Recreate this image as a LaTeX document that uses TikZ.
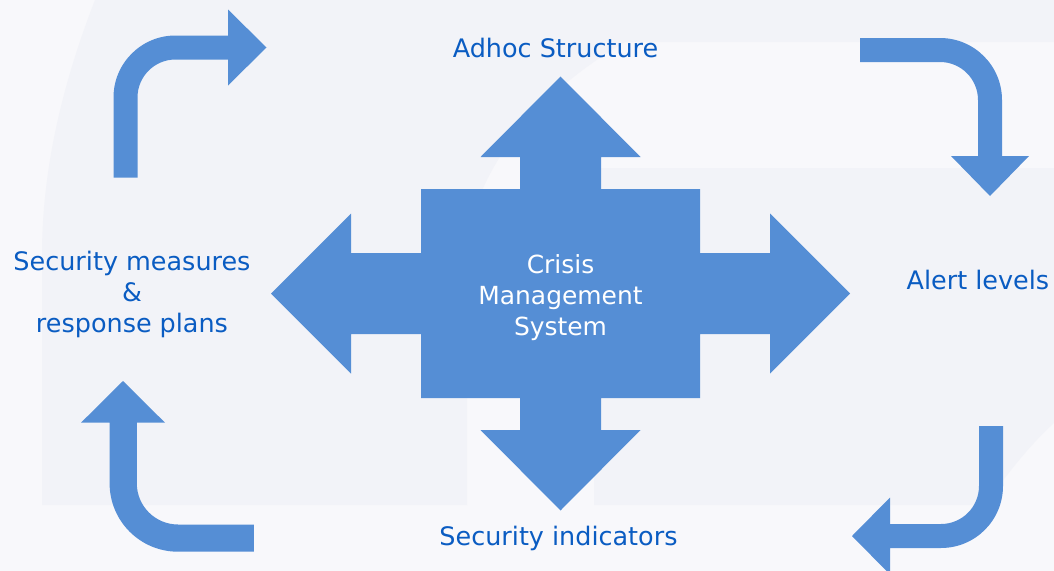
\documentclass[tikz,border=0pt]{standalone}
\usepackage{fontspec}
\setmainfont{DejaVu Sans}
\begin{document}
\begin{tikzpicture}[x=0.75pt,y=-0.75pt,
  blockarrow/.style={fill=arrowblue,draw=none},
  label/.style={text=labelblue,font=\fontsize{19.1}{23.3}\selectfont,inner sep=0pt},
  centrelabel/.style={text=white,font=\fontsize{18.7}{23.3}\selectfont,inner sep=0pt,align=center}]
\definecolor{arrowblue}{HTML}{558ED5}
\definecolor{labelblue}{HTML}{0A5CC2}
\definecolor{pagelight}{HTML}{F8F8FB}
\definecolor{pageshade}{HTML}{F2F3F8}

% page and faint background shapes
\fill[pagelight] (0,0) rectangle (1054,571);
\useasboundingbox (0,0) rectangle (1054,571);
\fill[pageshade] (95,0) .. controls (62,85) and (42,170) .. (42,255)
  -- (42,505) -- (467,505) -- (467,240)
  .. controls (480,165) and (535,95) .. (625,42)
  -- (1054,42) -- (1054,0) -- cycle;
\fill[pageshade] (594,168) -- (1054,168) -- (1054,423)
  .. controls (1030,445) and (1010,470) .. (985,505) -- (594,505) -- cycle;

% central four-way arrow
\fill[blockarrow] (560.5,76.5) -- (640.5,157) -- (601,157) -- (601,189)
  -- (700,189) -- (700,253) -- (770,253) -- (770,213.5) -- (850,293.5)
  -- (770,373.5) -- (770,334) -- (700,334) -- (700,398) -- (601,398)
  -- (601,430) -- (640.5,430) -- (560.5,510.5) -- (480.5,430) -- (520,430)
  -- (520,398) -- (421,398) -- (421,334) -- (351,334) -- (351,373.5)
  -- (271,293.5) -- (351,213.5) -- (351,253) -- (421,253) -- (421,189)
  -- (520,189) -- (520,157) -- (480.5,157) -- cycle;

% bent arrows running round the cycle
\fill[blockarrow] (113.5,177.5) -- (113.5,97.5)
  arc[start angle=180,end angle=270,radius=62]
  -- (228,35.5) -- (228,9.5) -- (266.5,47.5) -- (228,85.5) -- (228,59.5)
  -- (175.5,59.5) arc[start angle=270,end angle=180,radius=38]
  -- (137.5,177.5) -- cycle;
\fill[blockarrow] (860,38) -- (940,38)
  arc[start angle=270,end angle=360,radius=62]
  -- (1002,156) -- (1029,156) -- (990,196) -- (951,156) -- (978,156)
  -- (978,100) arc[start angle=0,end angle=-90,radius=38]
  -- (860,62) -- cycle;
\fill[blockarrow] (979,426) -- (1003,426) -- (1003,486)
  arc[start angle=0,end angle=90,radius=62]
  -- (890,548) -- (890,574.5) -- (852,536) -- (890,497.5) -- (890,524)
  -- (941,524) arc[start angle=90,end angle=0,radius=38]
  -- cycle;
\fill[blockarrow] (123,381) -- (165,422.7) -- (136.8,422.7) -- (136.8,483.3)
  arc[start angle=180,end angle=90,radius=41.2]
  -- (253.8,524.5) -- (253.8,551.7) -- (178,551.7)
  arc[start angle=90,end angle=180,radius=68.4]
  -- (109.6,422.7) -- (81,422.7) -- cycle;

% labels
\node[centrelabel] (cms) at (560.5,298) {Crisis\\Management\\System};
\node[label,anchor=base] (adhoc) at (555.5,57) {Adhoc Structure};
\node[label,anchor=base] (alert) at (978,289.5) {Alert levels};
\node[label,anchor=base] (indic) at (558.5,545) {Security indicators};
\node[label,align=center] (measures) at (132,294.5)
  {Security measures\\\&\\response plans};
\end{tikzpicture}
\end{document}
